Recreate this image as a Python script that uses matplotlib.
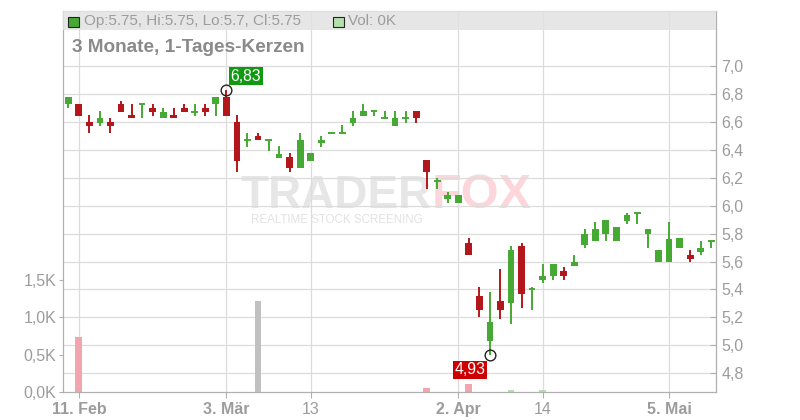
import numpy as np
import matplotlib
matplotlib.use('Agg')
import matplotlib.pyplot as plt
from matplotlib.patches import Rectangle

plt.rcParams['font.family'] = ['Liberation Sans', 'DejaVu Sans']

# Tageskerzen (Handelstage), Volumen in K
dates = ['2025-02-10', '2025-02-11', '2025-02-12', '2025-02-13', '2025-02-14',
         '2025-02-17', '2025-02-18', '2025-02-19', '2025-02-20', '2025-02-21',
         '2025-02-24', '2025-02-25', '2025-02-26', '2025-02-27', '2025-02-28',
         '2025-03-03', '2025-03-04', '2025-03-05', '2025-03-06', '2025-03-07',
         '2025-03-10', '2025-03-11', '2025-03-12', '2025-03-13', '2025-03-14',
         '2025-03-17', '2025-03-18', '2025-03-19', '2025-03-20', '2025-03-21',
         '2025-03-24', '2025-03-25', '2025-03-26', '2025-03-27', '2025-03-28',
         '2025-03-31', '2025-04-01', '2025-04-02', '2025-04-03', '2025-04-04',
         '2025-04-07', '2025-04-08', '2025-04-09', '2025-04-10', '2025-04-11',
         '2025-04-14', '2025-04-15', '2025-04-16', '2025-04-17', '2025-04-22',
         '2025-04-23', '2025-04-24', '2025-04-25', '2025-04-28', '2025-04-29',
         '2025-04-30', '2025-05-02', '2025-05-05', '2025-05-06', '2025-05-07',
         '2025-05-08', '2025-05-09']
opens = [6.73, 6.73, 6.60, 6.59, 6.60, 6.73, 6.65, 6.73, 6.70, 6.63,
         6.65, 6.70, 6.67, 6.70, 6.73, 6.78, 6.60, 6.47, 6.50, 6.47,
         6.34, 6.35, 6.27, 6.32, 6.45, 6.52, 6.52, 6.59, 6.64, 6.68,
         6.63, 6.57, 6.63, 6.68, 6.33, 6.18, 6.05, 6.02, 5.73, 5.35,
         5.03, 5.32, 5.30, 5.71, 5.40, 5.47, 5.50, 5.53, 5.57, 5.72,
         5.75, 5.80, 5.75, 5.89, 5.95, 5.80, 5.60, 5.60, 5.70, 5.65,
         5.67, 5.75]
highs = [6.78, 6.73, 6.65, 6.68, 6.63, 6.75, 6.73, 6.73, 6.73, 6.70,
         6.70, 6.73, 6.73, 6.73, 6.78, 6.83, 6.65, 6.52, 6.52, 6.47,
         6.43, 6.38, 6.52, 6.38, 6.50, 6.52, 6.58, 6.68, 6.73, 6.68,
         6.68, 6.68, 6.68, 6.68, 6.33, 6.20, 6.10, 6.08, 5.77, 5.42,
         5.38, 5.55, 5.71, 5.73, 5.42, 5.58, 5.58, 5.56, 5.65, 5.83,
         5.88, 5.90, 5.85, 5.95, 5.95, 5.83, 5.68, 5.88, 5.77, 5.68,
         5.75, 5.75]
lows = [6.70, 6.64, 6.52, 6.57, 6.52, 6.67, 6.63, 6.63, 6.64, 6.63,
        6.63, 6.67, 6.64, 6.64, 6.64, 6.64, 6.24, 6.42, 6.47, 6.39,
        6.34, 6.24, 6.27, 6.32, 6.42, 6.52, 6.52, 6.57, 6.64, 6.64,
        6.63, 6.57, 6.59, 6.59, 6.12, 6.12, 6.02, 6.02, 5.65, 5.20,
        4.93, 5.19, 5.15, 5.27, 5.25, 5.45, 5.47, 5.47, 5.57, 5.70,
        5.75, 5.75, 5.75, 5.87, 5.87, 5.70, 5.60, 5.60, 5.70, 5.60,
        5.65, 5.70]
closes = [6.78, 6.64, 6.57, 6.63, 6.57, 6.67, 6.63, 6.73, 6.67, 6.67,
          6.63, 6.67, 6.67, 6.67, 6.78, 6.64, 6.32, 6.47, 6.47, 6.47,
          6.37, 6.27, 6.47, 6.38, 6.47, 6.52, 6.52, 6.63, 6.68, 6.68,
          6.63, 6.63, 6.63, 6.63, 6.24, 6.18, 6.08, 6.08, 5.65, 5.25,
          5.17, 5.25, 5.68, 5.37, 5.40, 5.50, 5.58, 5.50, 5.60, 5.80,
          5.83, 5.90, 5.85, 5.93, 5.95, 5.83, 5.68, 5.76, 5.77, 5.62,
          5.70, 5.75]
volumes = [0, 0.74, 0, 0, 0, 0, 0, 0, 0, 0,
           0, 0, 0, 0, 0, 0, 0, 0, 1.22, 0,
           0, 0, 0, 0, 0, 0, 0, 0, 0, 0,
           0, 0, 0, 0, 0.05, 0, 0, 0, 0.11, 0,
           0, 0, 0.03, 0, 0, 0.03, 0, 0, 0, 0,
           0, 0, 0, 0, 0, 0, 0, 0, 0, 0,
           0, 0]

tick_dates = ['2025-02-11', '2025-03-03', '2025-03-13', '2025-04-02', '2025-04-14', '2025-05-05']
tick_labels = ['11. Feb', '3. Mär', '13', '2. Apr', '14', '5. Mai']
price_ticks = [4.8, 5.0, 5.2, 5.4, 5.6, 5.8, 6.0, 6.2, 6.4, 6.6, 6.8, 7.0]
vol_ticks = [0.0, 0.5, 1.0, 1.5]

GREEN = '#46a933'
RED = '#b3171b'
VOL_UP = '#b2dfab'
VOL_DOWN = '#f0a5af'
VOL_FLAT = '#c0c0c0'
TXT = '#9c9c9c'
AXC = '#b0b0b0'

fig = plt.figure(figsize=(8, 4.2), dpi=100)
ax = fig.add_axes([63 / 800, 28 / 420, 653 / 800, 381 / 420])
ax_vol = ax.twinx()
ax.yaxis.tick_right()
ax_vol.yaxis.tick_left()

x = np.arange(len(dates))
ax.set_xlim(-0.503, 61.45)
ax.set_ylim(4.666, 7.394)
ax_vol.set_ylim(0, 5.107)

# Gitter
ax.set_axisbelow(True)
ax.grid(True, color='#dcdcdc', lw=0.9)
ax.set_yticks(price_ticks)
ax.set_yticklabels([('%.1f' % p).replace('.', ',') for p in price_ticks])
ax.set_xticks([dates.index(d) for d in tick_dates])
ax.set_xticklabels(tick_labels)
for lab in ax.get_xticklabels():
    if ' ' in lab.get_text():
        lab.set_fontweight('bold')
ax_vol.set_yticks(vol_ticks)
ax_vol.set_yticklabels([('%.1fK' % v).replace('.', ',') for v in vol_ticks])

ax.tick_params(axis='x', length=4, color=AXC, labelcolor=TXT, labelsize=11.5, pad=3)
ax.tick_params(axis='y', direction='in', length=4, color=AXC, labelcolor=TXT, labelsize=11.5, pad=4)
ax_vol.tick_params(axis='y', direction='out', length=3, color=AXC, labelcolor=TXT, labelsize=11.5, pad=2)
for a in (ax, ax_vol):
    for s in a.spines.values():
        s.set_color(AXC)
    a.spines['top'].set_color('#cccccc')

# Wasserzeichen (unter dem Gitter)
ax.text((432 - 63) / 653, (392 - 208) / 381, 'TRADER', transform=ax.transAxes, fontsize=33,
        weight='bold', color='#e6e6e6', ha='right', va='baseline', zorder=0.2)
ax.text((432 - 63) / 653, (392 - 208) / 381, 'FOX', transform=ax.transAxes, fontsize=35,
        weight='bold', color='#fcd6da', ha='left', va='baseline', zorder=0.2)
ax.text((251 - 63) / 653, (392 - 223) / 381, 'REALTIME STOCK SCREENING', transform=ax.transAxes,
        fontsize=8.3, color='#e2e2e2', ha='left', va='baseline', zorder=0.2)

# Kerzen
for i in range(len(dates)):
    col = GREEN if closes[i] >= opens[i] else RED
    ax.vlines(x[i], lows[i], highs[i], color=col, lw=1.4, zorder=3)
    if abs(closes[i] - opens[i]) < 0.005:
        ax.hlines(closes[i], x[i] - 0.32, x[i] + 0.32, color=col, lw=1.4, zorder=3)
    else:
        ax.bar(x[i], abs(closes[i] - opens[i]), bottom=min(opens[i], closes[i]),
               width=0.64, color=col, zorder=3)

# Volumen
vcol = []
for i in range(len(dates)):
    prev = closes[i - 1] if i > 0 else opens[i]
    if closes[i] > prev:
        vcol.append(VOL_UP)
    elif closes[i] < prev:
        vcol.append(VOL_DOWN)
    else:
        vcol.append(VOL_FLAT)
vx = [i for i in range(len(dates)) if volumes[i] > 0]
ax_vol.bar(vx, [volumes[i] for i in vx], width=0.64, color=[vcol[i] for i in vx], zorder=2)

# Hoch / Tief
ih = int(np.argmax(highs))
il = int(np.argmin(lows))
ax.plot(x[ih], highs[ih], 'o', mfc='none', mec='#222222', ms=7.7, mew=1, zorder=5)
ax.plot(x[il], lows[il], 'o', mfc='none', mec='#222222', ms=7.7, mew=1, zorder=5)
ax.annotate(('%.2f' % highs[ih]).replace('.', ','), xy=(x[ih], highs[ih]), xytext=(4, 6),
            textcoords='offset pixels', ha='left', va='bottom', color='white', fontsize=11.3,
            bbox=dict(boxstyle='square,pad=0.1', fc='#119a11', ec='none'), zorder=6)
ax.annotate(('%.2f' % lows[il]).replace('.', ','), xy=(x[il], lows[il]), xytext=(-4, -7),
            textcoords='offset pixels', ha='right', va='top', color='white', fontsize=11.3,
            bbox=dict(boxstyle='square,pad=0.1', fc='#cc0000', ec='none'), zorder=6)

# Kopfzeile
ax_vol.add_patch(Rectangle((0, 1 - 19 / 381), 1, 19 / 381, transform=ax_vol.transAxes,
                           facecolor='#e2e2e2', alpha=0.85, zorder=4, clip_on=False))
fig.add_artist(Rectangle((68 / 800, (420 - 27) / 420), 11 / 800, 10 / 420, transform=fig.transFigure,
                         facecolor=GREEN, edgecolor='#222222', lw=0.8))
fig.text(84 / 800, 1 - 21 / 420,
         'Op:%g, Hi:%g, Lo:%g, Cl:%g' % (opens[-1], highs[-1], lows[-1], closes[-1]),
         fontsize=11, color=TXT, va='center')
fig.add_artist(Rectangle((333 / 800, (420 - 27) / 420), 11 / 800, 10 / 420, transform=fig.transFigure,
                         facecolor=VOL_UP, edgecolor='#222222', lw=0.8))
fig.text(348 / 800, 1 - 21 / 420, 'Vol: %gK' % volumes[-1], fontsize=11, color=TXT, va='center')
fig.text(72 / 800, 1 - 47 / 420, '3 Monate, 1-Tages-Kerzen', fontsize=13.7, weight='bold',
         color='#8a8a8a', va='center')

fig.savefig('out.png', dpi=100)
